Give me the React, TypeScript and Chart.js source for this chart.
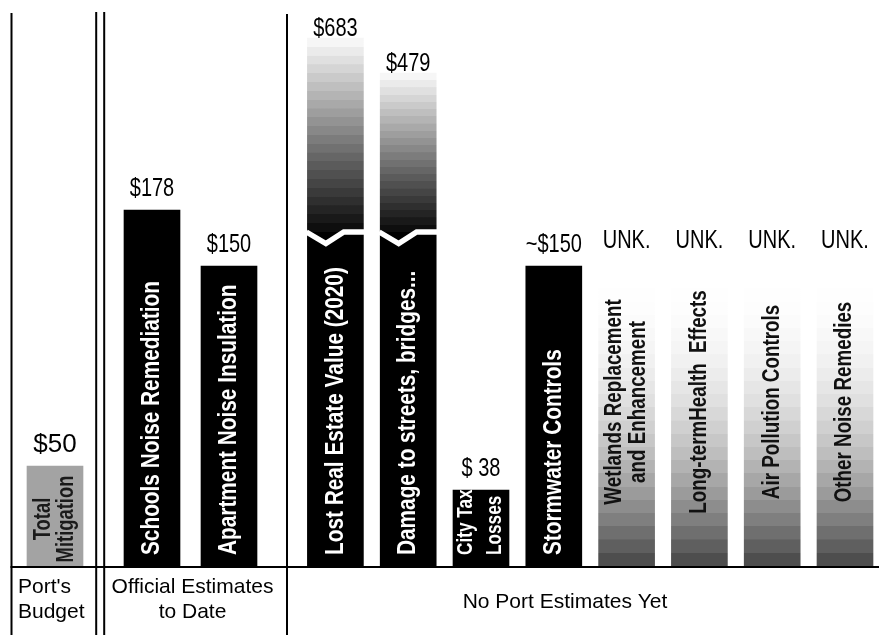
import { useEffect, useRef } from 'react';
import { Chart, registerables, LinearScale } from 'chart.js';

// ---- data -------------------------------------------------------------
const sectionTitles = ["Port's\nBudget", 'Official Estimates\nto Date', 'No Port Estimates Yet'];

const budgetCategories = ['Total\nMitigation'];
const budgetValues = [50];
const budgetValueLabels = ['$50'];

const officialCategories = ['Schools Noise Remediation', 'Apartment Noise Insulation'];
const officialValues = [178, 150];
const officialValueLabels = ['$178', '$150'];

const otherCategories = [
  'Lost Real Estate Value (2020)',
  'Damage to streets, bridges...',
  'City Tax\nLosses',
  'Stormwater Controls',
  'Wetlands Replacement\nand Enhancement',
  'Long-termHealth  Effects',
  'Air Pollution Controls',
  'Other Noise Remedies',
];
const otherValues: (number | null)[] = [683, 479, 38, 150, null, null, null, null];
const otherValueLabels = ['$683', '$479', '$ 38', '~$150', 'UNK.', 'UNK.', 'UNK.', 'UNK.'];

// unknown amounts are shown as a fading column of this nominal extent
const UNKNOWN_EXTENT = 152;

// ---- broken value axis --------------------------------------------------
// linear up to BREAK_AT, then compressed so the very large items still fit
const BREAK_AT = 180;
// level at which the break notch is cut into the oversized columns
const BREAK_MARK = 167;
const compress = (v: number) =>
  v > BREAK_AT ? BREAK_AT + 5.14 * Math.pow(v - BREAK_AT, 0.449) : v;

class BrokenLinearScale extends LinearScale {
  static id = 'brokenLinear';
  static defaults = LinearScale.defaults;
  getPixelForValue(value: number) {
    return super.getPixelForValue(compress(value));
  }
}

Chart.register(...registerables, BrokenLinearScale);

// ---- styling helpers ----------------------------------------------------
const FONT = '"Liberation Sans", Arial, Helvetica, sans-serif';
// narrow lettering, as in a condensed sans
const CONDENSE = 0.8;

type Kind = 'budget' | 'solid' | 'unknown';

function bandedGradient(
  ctx: CanvasRenderingContext2D,
  top: number,
  bottom: number,
  bands: number,
  shade: (t: number) => number,
  solidFrom = 1,
) {
  const g = ctx.createLinearGradient(0, top, 0, bottom);
  for (let i = 0; i < bands; i++) {
    const t0 = (i / bands) * solidFrom;
    const t1 = ((i + 1) / bands) * solidFrom;
    const v = Math.round(shade(i / (bands - 1)));
    const c = `rgb(${v},${v},${v})`;
    g.addColorStop(t0, c);
    g.addColorStop(Math.max(t0, t1 - 0.0005), c);
  }
  if (solidFrom < 1) {
    g.addColorStop(solidFrom, '#000');
    g.addColorStop(1, '#000');
  }
  return g;
}

function drawCondensed(
  ctx: CanvasRenderingContext2D,
  text: string,
  x: number,
  y: number,
  font: string,
  align: CanvasTextAlign,
  baseline: CanvasTextBaseline,
  squeeze = CONDENSE,
) {
  ctx.save();
  ctx.font = font;
  ctx.textAlign = align;
  ctx.textBaseline = baseline;
  ctx.translate(x, y);
  ctx.scale(squeeze, 1);
  ctx.fillText(text, 0, 0);
  ctx.restore();
}

interface SectionSpec {
  title: string;
  categories: string[];
  values: (number | null)[];
  valueLabels: string[];
  kinds: Kind[];
  canvasLeft: number;
  canvasWidth: number;
  padLeft: number;
  padRight: number;
  frameLines: { x: number; top: number }[];
  baselineFrom: number;
  titleAlign: CanvasTextAlign;
  titleX: number;
  titleY: number;
  valueFontSize: number;
  valueSqueeze: number;
  labelSizes: number[];
  labelLineGaps: number[];
  labelColor: string;
}

const CANVAS_H = 635;
const PLOT_TOP = 6;
const PLOT_BOTTOM = 566;

function makeConfig(spec: SectionSpec) {
  const drawValues = spec.values.map((v) => (v == null ? UNKNOWN_EXTENT : v));

  const overlay = {
    id: 'sectionOverlay',
    afterDatasetsDraw(chart: Chart) {
      const ctx = chart.ctx;
      const meta = chart.getDatasetMeta(0);
      const yScale = chart.scales.y;
      const markPx = yScale.getPixelForValue(BREAK_MARK);

      meta.data.forEach((bar: any, i: number) => {
        const { x, y, base, width } = bar.getProps(['x', 'y', 'base', 'width'], true);
        const left = x - width / 2;
        const value = spec.values[i];
        const kind = spec.kinds[i];
        const broken = value != null && value > BREAK_AT;

        // white break notch on columns that run past the axis break
        if (broken) {
          ctx.save();
          ctx.strokeStyle = '#fff';
          ctx.lineWidth = 5.5;
          ctx.lineJoin = 'miter';
          ctx.beginPath();
          ctx.moveTo(left - 1, markPx);
          ctx.lineTo(left + width * 0.33, markPx + 11.5);
          ctx.lineTo(left + width * 0.65, markPx);
          ctx.lineTo(left + width + 1, markPx);
          ctx.stroke();
          ctx.restore();
        }

        // value label above the column
        const gap = broken ? 2 : 14;
        ctx.fillStyle = '#000';
        drawCondensed(
          ctx,
          spec.valueLabels[i],
          x,
          y - gap,
          `${spec.valueFontSize}px ${FONT}`,
          'center',
          'alphabetic',
          spec.valueSqueeze,
        );

        // category name written up the column
        const lines = spec.categories[i].split('\n');
        const lineH = spec.labelLineGaps[i];
        ctx.save();
        ctx.fillStyle = kind === 'solid' ? '#fff' : spec.labelColor;
        ctx.font = `bold ${spec.labelSizes[i]}px ${FONT}`;
        ctx.textBaseline = 'middle';
        let anchorY: number;
        let align: CanvasTextAlign;
        if (kind === 'unknown') {
          anchorY = (y + base) / 2 - 12;
          align = 'center';
        } else if (kind === 'budget') {
          anchorY = base - 47;
          align = 'center';
        } else {
          anchorY = base - 11;
          align = 'left';
        }
        ctx.translate(x, anchorY);
        ctx.rotate(-Math.PI / 2);
        ctx.textAlign = align;
        lines.forEach((ln, j) => {
          const off = (j - (lines.length - 1) / 2) * lineH;
          ctx.save();
          ctx.translate(0, off);
          ctx.scale(CONDENSE, 1);
          ctx.fillText(ln, 0, 0);
          ctx.restore();
        });
        ctx.restore();
      });

      // table frame: vertical rules and the base rule
      ctx.save();
      ctx.fillStyle = '#000';
      spec.frameLines.forEach((l) => {
        ctx.fillRect(l.x - 1, l.top, 2, CANVAS_H - l.top);
      });
      ctx.fillRect(spec.baselineFrom, PLOT_BOTTOM, chart.width - spec.baselineFrom, 2);
      ctx.restore();

      // section caption under the base rule
      ctx.fillStyle = '#000';
      spec.title.split('\n').forEach((ln, j) => {
        drawCondensed(ctx, ln, spec.titleX, spec.titleY + j * 25, `21px ${FONT}`, spec.titleAlign, 'alphabetic', 1);
      });
    },
  };

  return {
    type: 'bar' as const,
    data: {
      labels: spec.categories,
      datasets: [
        {
          data: drawValues,
          barThickness: 56,
          borderWidth: 0,
          backgroundColor: (c: any) => {
            const chart = c.chart as Chart;
            const i = c.dataIndex;
            const kind = spec.kinds[i];
            if (kind === 'budget') return '#a3a3a3';
            if (!chart.chartArea || i == null) return '#000';
            const yScale = chart.scales.y;
            const base = yScale.getPixelForValue(0);
            const top = yScale.getPixelForValue(drawValues[i]);
            if (kind === 'unknown') {
              return bandedGradient(chart.ctx, top, base, 23, (t) => 255 - 177 * Math.pow(t, 2.2));
            }
            const value = spec.values[i] as number;
            if (value > BREAK_AT) {
              const markPx = yScale.getPixelForValue(BREAK_MARK);
              const solidFrom = (markPx - top) / (base - top);
              return bandedGradient(chart.ctx, top, base, 22, (t) => 246 - 232 * t, solidFrom);
            }
            return '#000';
          },
        },
      ],
    },
    options: {
      responsive: false,
      animation: false as const,
      events: [],
      layout: {
        padding: {
          left: spec.padLeft,
          right: spec.padRight,
          top: PLOT_TOP,
          bottom: CANVAS_H - PLOT_BOTTOM,
        },
      },
      scales: {
        x: { type: 'category' as const, display: false, offset: true },
        y: { type: 'brokenLinear' as any, display: false, min: 0, max: 280 },
      },
      plugins: {
        legend: { display: false },
        tooltip: { enabled: false },
      },
    },
    plugins: [overlay],
  };
}

const sections: SectionSpec[] = [
  {
    title: sectionTitles[0],
    categories: budgetCategories,
    values: budgetValues,
    valueLabels: budgetValueLabels,
    kinds: ['budget'],
    canvasLeft: 0,
    canvasWidth: 100,
    padLeft: 13,
    padRight: 3,
    frameLines: [
      { x: 11.5, top: 13 },
      { x: 96.2, top: 12 },
    ],
    baselineFrom: 10.5,
    titleAlign: 'left',
    titleX: 18,
    titleY: 593,
    valueFontSize: 26,
    valueSqueeze: 1,
    labelSizes: [23],
    labelLineGaps: [23],
    labelColor: '#1a1a1a',
  },
  {
    title: sectionTitles[1],
    categories: officialCategories,
    values: officialValues,
    valueLabels: officialValueLabels,
    kinds: ['solid', 'solid'],
    canvasLeft: 100,
    canvasWidth: 189,
    padLeft: 13.5,
    padRight: 21.5,
    frameLines: [
      { x: 4.2, top: 12 },
      { x: 187, top: 14 },
    ],
    baselineFrom: 0,
    titleAlign: 'center',
    titleX: 92.5,
    titleY: 593,
    valueFontSize: 25,
    valueSqueeze: CONDENSE,
    labelSizes: [26, 26],
    labelLineGaps: [24, 24],
    labelColor: '#000',
  },
  {
    title: sectionTitles[2],
    categories: otherCategories,
    values: otherValues,
    valueLabels: otherValueLabels,
    kinds: ['solid', 'solid', 'solid', 'solid', 'unknown', 'unknown', 'unknown', 'unknown'],
    canvasLeft: 289,
    canvasWidth: 600,
    padLeft: 10,
    padRight: 7.6,
    frameLines: [],
    baselineFrom: 0,
    titleAlign: 'center',
    titleX: 276,
    titleY: 608,
    valueFontSize: 25,
    valueSqueeze: CONDENSE,
    labelSizes: [26, 26, 21.5, 26, 23.5, 23.5, 23.5, 23.5],
    labelLineGaps: [24, 24, 29, 24, 24, 24, 24, 24],
    labelColor: '#111',
  },
];

function SectionChart({ spec }: { spec: SectionSpec }) {
  const ref = useRef<HTMLCanvasElement | null>(null);
  useEffect(() => {
    if (!ref.current) return;
    const chart = new Chart(ref.current, makeConfig(spec) as any);
    return () => chart.destroy();
  }, [spec]);
  return (
    <canvas
      ref={ref}
      width={spec.canvasWidth}
      height={CANVAS_H}
      style={{
        position: 'absolute',
        left: spec.canvasLeft,
        top: 0,
        width: spec.canvasWidth,
        height: CANVAS_H,
      }}
    />
  );
}

export default function App() {
  return (
    <div
      style={{
        position: 'absolute',
        left: 0,
        top: 0,
        width: 879,
        height: 635,
        overflow: 'hidden',
        background: '#fff',
      }}
    >
      {sections.map((s, i) => (
        <SectionChart key={i} spec={s} />
      ))}
    </div>
  );
}
